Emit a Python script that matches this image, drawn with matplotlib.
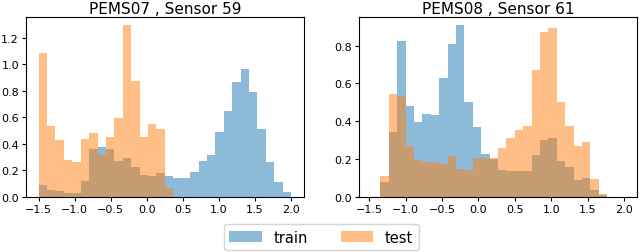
import numpy as np
import matplotlib.pyplot as plt

# bin edges (30 bins each)
edges_07 = np.linspace(-1.5, 2.0, 31)
edges_08 = np.linspace(-1.464, 2.0, 31)

# PEMS07, Sensor 59 - density per bin
train_07 = [0.088, 0.05, 0.04, 0.03, 0.027, 0.118, 0.361, 0.374, 0.361, 0.272,
            0.293, 0.227, 0.166, 0.157, 0.181, 0.155, 0.139, 0.139, 0.184, 0.268,
            0.315, 0.487, 0.65, 0.867, 0.963, 0.79, 0.514, 0.26, 0.114, 0.038]
test_07 = [1.084, 0.537, 0.425, 0.278, 0.264, 0.434, 0.48, 0.323, 0.449, 0.597,
           1.293, 0.875, 0.449, 0.55, 0.51, 0.066, 0, 0, 0, 0,
           0, 0, 0, 0, 0, 0, 0, 0, 0, 0]

# PEMS08, Sensor 61
train_08 = [0, 0.08, 0.345, 0.823, 0.48, 0.397, 0.44, 0.43, 0.629, 0.809,
            0.906, 0.50, 0.367, 0.226, 0.2, 0.143, 0.138, 0.135, 0.135, 0.22,
            0.30, 0.309, 0.19, 0.156, 0.09, 0.099, 0.034, 0.01, 0, 0]
test_08 = [0, 0.108, 0.542, 0.533, 0.268, 0.194, 0.184, 0.184, 0.175, 0.217,
           0.147, 0.141, 0.205, 0.205, 0.203, 0.256, 0.311, 0.353, 0.376, 0.673,
           0.871, 0.895, 0.503, 0.373, 0.267, 0.288, 0.094, 0.016, 0, 0]

titles = ['PEMS07 , Sensor 59', 'PEMS08 , Sensor 61']
panels = [(edges_07, train_07, test_07), (edges_08, train_08, test_08)]

fig = plt.figure(figsize=(6.4, 2.53), dpi=100)
ax1 = fig.add_axes([0.0406, 0.2186, 0.434, 0.7105])
ax2 = fig.add_axes([0.5614, 0.2186, 0.4334, 0.7105])

for ax, title, (edges, tr, te) in zip([ax1, ax2], titles, panels):
    ax.hist(edges[:-1], bins=edges, weights=tr, alpha=0.5, color='C0', label='train')
    ax.hist(edges[:-1], bins=edges, weights=te, alpha=0.5, color='C1', label='test')
    ax.set_title(title, fontsize=11, pad=3)
    ax.tick_params(labelsize=8, length=3, pad=2)

handles, labels = ax1.get_legend_handles_labels()
fig.legend(handles, labels, loc='center', bbox_to_anchor=(0.502, 0.059), ncol=2,
           fontsize=10.5, columnspacing=2.3, handlelength=2.2)

plt.savefig('out.png')
